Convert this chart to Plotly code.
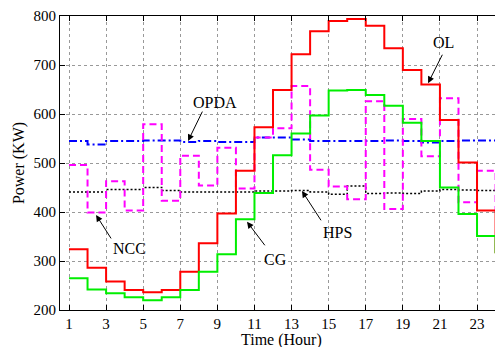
import plotly.graph_objects as go

hours = list(range(1, 25))

ol = [324, 286, 258, 241, 236, 241, 278, 336, 397, 484, 573, 649,
      722, 769, 790, 794, 780, 734, 690, 660, 588, 501, 403, 316]
cg = [265, 242, 234, 226, 220, 226, 241, 278, 314, 385, 439, 516,
      560, 597, 648, 649, 639, 617, 582, 545, 450, 396, 351, 316]
ncc = [496, 399, 463, 403, 579, 423, 515, 454, 531, 448, 552, 571,
       657, 486, 452, 426, 626, 406, 590, 514, 632, 420, 484, 401]
opda = [545, 538, 545, 545, 546, 546, 543, 545, 543, 543, 552, 552,
        548, 545, 545, 545, 545, 546, 545, 542, 545, 546, 546, 546]
hps = [441, 441, 446, 446, 450, 444, 441, 441, 441, 441, 443, 443,
       444, 441, 436, 453, 438, 439, 438, 443, 446, 445, 444, 442]

x_ticks = [1, 3, 5, 7, 9, 11, 13, 15, 17, 19, 21, 23]
y_ticks = [200, 300, 400, 500, 600, 700, 800]

FONT = "Liberation Serif"
FS = 16
TFS = 15

fig = go.Figure()
fig.add_trace(go.Scatter(x=hours, y=hps, mode="lines", line_shape="hv", name="HPS",
                         line=dict(color="#000000", width=1.5, dash="2px,2px")))
fig.add_trace(go.Scatter(x=hours, y=opda, mode="lines", line_shape="hv", name="OPDA",
                         line=dict(color="#0000FF", width=2, dash="8px,3px,2px,3px")))
fig.add_trace(go.Scatter(x=hours, y=ncc, mode="lines", line_shape="hv", name="NCC",
                         line=dict(color="#FF00FF", width=2, dash="7px,4px")))
fig.add_trace(go.Scatter(x=hours, y=ol, mode="lines", line_shape="hv", name="OL",
                         line=dict(color="#FF0000", width=2)))
fig.add_trace(go.Scatter(x=hours, y=cg, mode="lines", line_shape="hv", name="CG",
                         line=dict(color="#00EE00", width=2)))

# labels: (text, text_x, text_y, tail_x, tail_y, tip_x, tip_y)
labels = [
    ("OPDA", 8.87, 624, 8.23, 608, 7.42, 545),
    ("OL", 21.17, 745, 21.17, 724, 20.36, 663),
    ("NCC", 4.24, 325, 3.32, 343, 2.46, 394),
    ("CG", 12.16, 304, 11.62, 329, 10.6, 380),
    ("HPS", 15.45, 359, 14.64, 380, 13.56, 443),
]
for t, tx, ty, ax_, ay_, px, py in labels:
    fig.add_annotation(x=tx, y=ty, text=t, showarrow=False,
                       font=dict(family=FONT, size=FS, color="black"))
    fig.add_annotation(x=px, y=py, ax=ax_, ay=ay_, axref="x", ayref="y",
                       text="", showarrow=True, arrowhead=2, arrowsize=1.3,
                       arrowwidth=1, arrowcolor="black")

# x-axis title placed precisely below the tick labels
fig.add_annotation(xref="paper", yref="paper", x=0.5, y=-0.103,
                   xanchor="center", yanchor="middle", showarrow=False,
                   text="Time (Hour)", font=dict(family=FONT, size=FS, color="black"))

# page body has an 8px default margin, so the figure is offset by (8, 8)
fig.update_layout(
    width=495, height=339,
    margin=dict(l=52, r=0, t=8, b=37, autoexpand=False),
    paper_bgcolor="white", plot_bgcolor="white",
    showlegend=False,
    font=dict(family=FONT, size=TFS, color="black"),
    xaxis=dict(range=[0.515, 24.4], tickvals=x_ticks, ticktext=[str(v) for v in x_ticks],
               ticks="inside", ticklen=5, tickcolor="black",
               tickfont=dict(family=FONT, size=TFS),
               showline=True, mirror="ticks", linecolor="black", linewidth=1,
               showgrid=True, gridcolor="#999999", griddash="dot", gridwidth=1,
               zeroline=False, automargin=False),
    yaxis=dict(range=[200, 800], tickvals=y_ticks, ticktext=[str(v) for v in y_ticks],
               ticks="inside", ticklen=5, tickcolor="black",
               tickfont=dict(family=FONT, size=TFS),
               showline=True, mirror="ticks", linecolor="black", linewidth=1,
               showgrid=True, gridcolor="#999999", griddash="dot", gridwidth=1,
               zeroline=False, automargin=False,
               title=dict(text="Power (KW)", standoff=4,
                          font=dict(family=FONT, size=FS))),
)

fig.write_html("out.html")
